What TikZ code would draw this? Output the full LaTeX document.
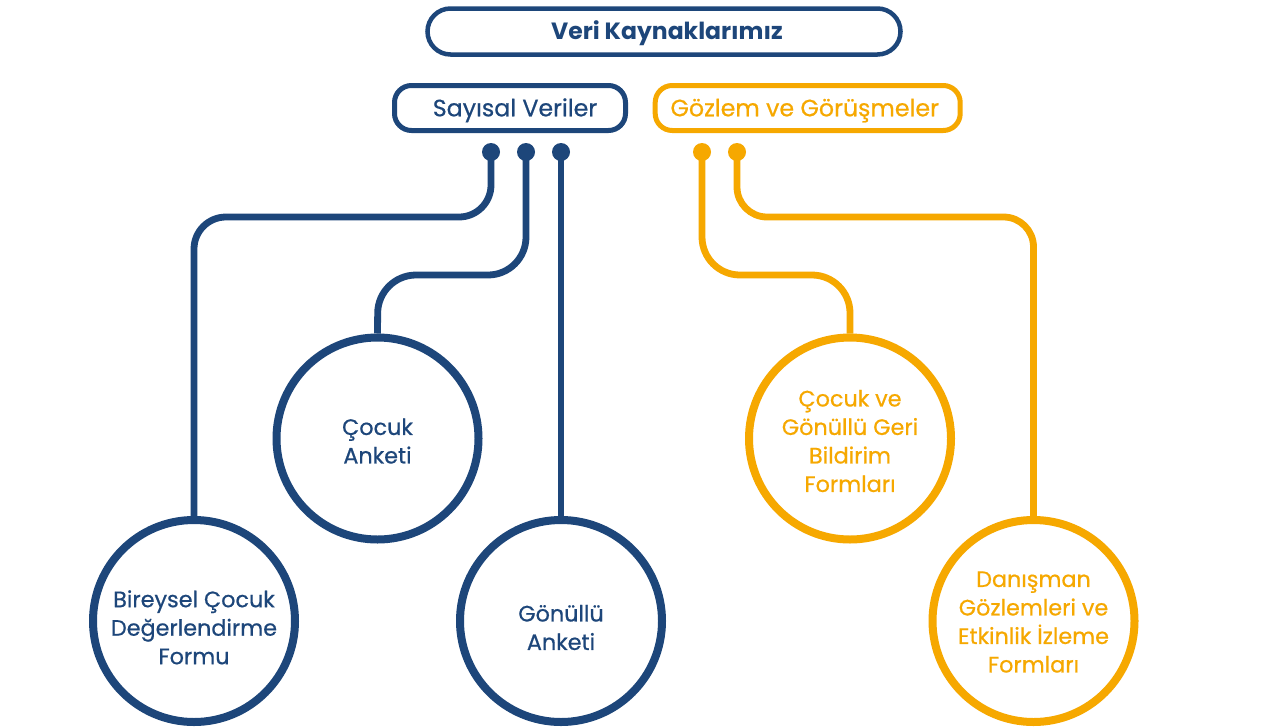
\documentclass[tikz,border=0pt]{standalone}
\usepackage{fontspec}
\setmainfont{Poppins}
\newfontfamily\medfont{Poppins}[FakeBold=0.6]
\definecolor{navy}{RGB}{29,70,122}
\definecolor{amber}{RGB}{246,168,0}
\newcommand{\srctext}[2]{\raisebox{#1}[\height][\depth]{\begin{tabular}{@{}c@{}}#2\end{tabular}}}
\begin{document}
\begin{tikzpicture}[x=1pt,y=-1pt,
  titlebox/.style={draw=navy,line width=4.5pt,rounded corners=23pt,minimum width=473pt,minimum height=46pt,text=navy,font=\fontsize{23.5}{26}\selectfont\bfseries,inner sep=0pt,text height=16.4pt,text depth=0pt},
  subbox/.style={draw=#1,line width=5pt,rounded corners=17pt,minimum height=45pt,text=#1,font=\fontsize{23.7}{27}\medfont,inner sep=0pt,text height=16.6pt,text depth=0pt},
  srcnode/.style={circle,draw=#1,line width=8pt,minimum size=202pt,inner sep=0pt,text=#1,font=\fontsize{22.3}{28.5}\medfont},
  pin/.style={circle,fill=#1,minimum size=18pt,inner sep=0pt},
  link/.style 2 args={draw=#1,line width=6.8pt,rounded corners=#2}
]
\useasboundingbox (0,0) rectangle (1281,726);
\fill[white] (0,0) rectangle (1281,726);

\node[titlebox] (title) at (664,31.5) {\hspace*{6pt}Veri Kaynaklarımız};
\node[subbox=navy,minimum width=231pt] (sayisal) at (510,108) {\hspace*{10pt}Sayısal Veriler};
\node[subbox=amber,minimum width=305pt] (gozlem) at (807.7,108) {Gözlem ve Görüşmeler\hspace*{6pt}};

\node[srcnode=navy] (bireysel) at (194,621) {\srctext{-9pt}{Bireysel Çocuk\\Değerlendirme\\Formu}};
\node[srcnode=navy] (cocuk) at (377.5,438.5) {\srctext{-5pt}{Çocuk\\Anketi}};
\node[srcnode=navy] (gonullu) at (561,621) {\srctext{-9pt}{Gönüllü\\Anketi}};
\node[srcnode=amber] (geri) at (850,438.5) {\srctext{-5pt}{Çocuk ve\\Gönüllü Geri\\Bildirim\\Formları}};
\node[srcnode=amber] (danisman) at (1033.5,621) {\srctext{-3pt}{Danışman\\Gözlemleri ve\\Etkinlik İzleme\\Formları}};

\node[pin=navy] (p1) at (491,152) {};
\node[pin=navy] (p2) at (526,152) {};
\node[pin=navy] (p3) at (561,152) {};
\node[pin=amber] (p4) at (702,152) {};
\node[pin=amber] (p5) at (737,152) {};

\path[link={navy}{32pt}] (p1.center) -- (491,217) -- (194,217) -- (bireysel.north);
\path[link={navy}{38pt}] (p2.center) -- (526,275) -- (378,275) -- (cocuk.north);
\path[link={navy}{0pt}] (p3.center) -- (gonullu.north);
\path[link={amber}{38pt}] (p4.center) -- (702,275) -- (850,275) -- (geri.north);
\path[link={amber}{30pt}] (p5.center) -- (737,217) -- (1033.5,217) -- (danisman.north);
\end{tikzpicture}
\end{document}
